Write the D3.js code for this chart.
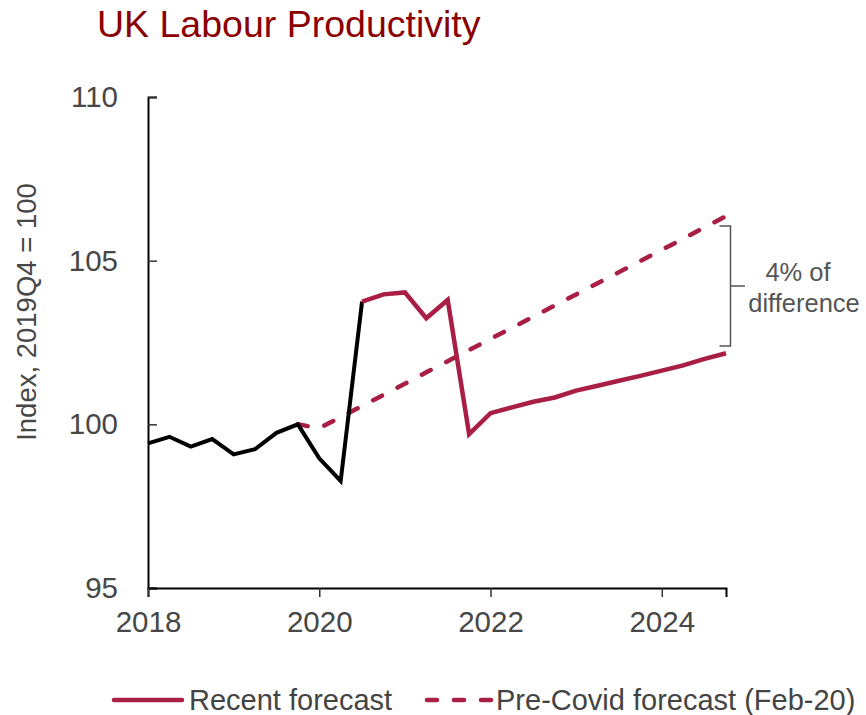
<!DOCTYPE html>
<html>
<head>
<meta charset="utf-8">
<script src="https://cdn.jsdelivr.net/npm/d3@7"></script>
<style>
  html, body { margin: 0; padding: 0; background: #fff; }
  svg { display: block; font-family: "Liberation Sans", Arial, Helvetica, sans-serif; }
</style>
</head>
<body>
<svg id="chart" width="866" height="715"></svg>
<script>
// Outturn, 2018Q1 to 2020Q3
const actualQuarters = ["2018Q1","2018Q2","2018Q3","2018Q4","2019Q1","2019Q2","2019Q3","2019Q4","2020Q1","2020Q2","2020Q3"];
const actualValues   = [99.42, 99.62, 99.32, 99.55, 99.08, 99.24, 99.74, 100.00, 98.96, 98.27, 103.75];

// Recent forecast, 2020Q3 to 2024Q4
const recentQuarters = ["2020Q3","2020Q4","2021Q1","2021Q2","2021Q3","2021Q4","2022Q1","2022Q2","2022Q3","2022Q4",
                        "2023Q1","2023Q2","2023Q3","2023Q4","2024Q1","2024Q2","2024Q3","2024Q4"];
const recentValues   = [103.75, 103.97, 104.03, 103.24, 103.80, 99.70, 100.34, 100.52, 100.69, 100.82,
                        101.03, 101.18, 101.33, 101.48, 101.64, 101.80, 102.00, 102.17];

// Pre-Covid forecast (Feb-20), 2019Q4 to 2024Q4
const preCovidQuarters = ["2019Q4","2020Q1","2020Q2","2020Q3","2020Q4","2021Q1","2021Q2","2021Q3","2021Q4",
                          "2022Q1","2022Q2","2022Q3","2022Q4","2023Q1","2023Q2","2023Q3","2023Q4",
                          "2024Q1","2024Q2","2024Q3","2024Q4"];
const preCovidValues   = [100.00, 99.88, 100.22, 100.56, 100.90, 101.24, 101.59, 101.93, 102.27,
                          102.61, 102.95, 103.29, 103.63, 103.97, 104.31, 104.65, 104.99,
                          105.33, 105.67, 106.02, 106.36];

const xTicks = [2018, 2020, 2022, 2024];
const yTicks = [95, 100, 105, 110];
const seriesNames = ["Recent forecast", "Pre-Covid forecast (Feb-20)"];
const gapRange = [102.39, 106.06];   // span marked by the brace
const gapLabel = ["4% of", "difference"];

const RED = "#A91E45";
const GREY = "#474747";

// "2019Q4" -> 2019.75
const toYear = q => +q.slice(0, 4) + (+q.slice(5) - 1) / 4;
const zip = (qs, vs) => qs.map((q, i) => ({ t: toYear(q), v: vs[i] }));

const svg = d3.select("#chart");

const x = d3.scaleLinear().domain([2018, 2024.75]).range([148, 726]);
const y = d3.scaleLinear().domain([95, 110]).range([588, 97]);

// Title
svg.append("text")
  .attr("x", 97).attr("y", 37)
  .attr("fill", "#8B0000")
  .attr("font-size", 37.5)
  .text("UK Labour Productivity");

// Y axis (ticks point into the plot)
const yAxis = svg.append("g")
  .attr("transform", `translate(${x(2018)},0)`)
  .call(d3.axisLeft(y).tickValues(yTicks).tickSize(-9).tickPadding(30).tickFormat(d3.format("d")));
yAxis.select(".domain").attr("stroke", "#000").attr("stroke-width", 2);
yAxis.selectAll(".tick line").attr("stroke", "#333").attr("stroke-width", 1.5);
yAxis.selectAll(".tick text")
  .attr("fill", GREY).attr("font-size", 29.5)
  .attr("font-family", "Liberation Sans, Arial, sans-serif");

// X axis
const xAxis = svg.append("g")
  .attr("transform", `translate(0,${y(95)})`)
  .call(d3.axisBottom(x).tickValues(xTicks).tickSize(9).tickPadding(14).tickFormat(d3.format("d")));
xAxis.select(".domain").attr("stroke", "#000").attr("stroke-width", 2);
xAxis.selectAll(".tick line").attr("stroke", "#333").attr("stroke-width", 1.5);
xAxis.selectAll(".tick text")
  .attr("fill", GREY).attr("font-size", 29.5)
  .attr("font-family", "Liberation Sans, Arial, sans-serif");

// Y axis title
svg.append("text")
  .attr("transform", "translate(36,312) rotate(-90)")
  .attr("text-anchor", "middle")
  .attr("fill", GREY)
  .attr("font-size", 27.5)
  .text("Index, 2019Q4 = 100");

const line = d3.line().x(d => x(d.t)).y(d => y(d.v));

// Pre-Covid forecast (dashed)
svg.append("path")
  .datum(zip(preCovidQuarters, preCovidValues))
  .attr("d", line)
  .attr("fill", "none")
  .attr("stroke", RED)
  .attr("stroke-width", 4.5)
  .attr("stroke-linecap", "round")
  .attr("stroke-dasharray", "10,17.5");

// Outturn (black)
svg.append("path")
  .datum(zip(actualQuarters, actualValues))
  .attr("d", line)
  .attr("fill", "none")
  .attr("stroke", "#000")
  .attr("stroke-width", 4)
  .attr("stroke-linejoin", "miter");

// Recent forecast
svg.append("path")
  .datum(zip(recentQuarters, recentValues))
  .attr("d", line)
  .attr("fill", "none")
  .attr("stroke", RED)
  .attr("stroke-width", 4.5)
  .attr("stroke-linejoin", "miter");

// Brace marking the gap between the two forecasts
const bTop = y(gapRange[1]), bBot = y(gapRange[0]), bMid = (bTop + bBot) / 2;
const bx = 730.5;
svg.append("path")
  .attr("d", `M719.5,${bTop} H${bx} V${bBot} H719.5 M${bx},${bMid} H745`)
  .attr("fill", "none")
  .attr("stroke", "#555")
  .attr("stroke-width", 1.5);

svg.append("g")
  .attr("fill", "#555")
  .attr("font-size", 25.5)
  .attr("text-anchor", "middle")
  .selectAll("text")
  .data(gapLabel)
  .join("text")
  .attr("x", (d, i) => i === 0 ? 798 : 804)
  .attr("y", (d, i) => 281 + i * 31)
  .text(d => d);

// Legend
const legend = svg.append("g").attr("font-size", 29).attr("fill", "#444");
legend.append("line")
  .attr("x1", 114).attr("x2", 182).attr("y1", 700).attr("y2", 700)
  .attr("stroke", RED).attr("stroke-width", 4.5).attr("stroke-linecap", "round");
legend.append("text").attr("x", 189).attr("y", 710).text(seriesNames[0]);
legend.append("line")
  .attr("x1", 427).attr("x2", 491).attr("y1", 700).attr("y2", 700)
  .attr("stroke", RED).attr("stroke-width", 4.5).attr("stroke-linecap", "round")
  .attr("stroke-dasharray", "10,17");
legend.append("text").attr("x", 496).attr("y", 710).text(seriesNames[1]);
</script>
</body>
</html>
